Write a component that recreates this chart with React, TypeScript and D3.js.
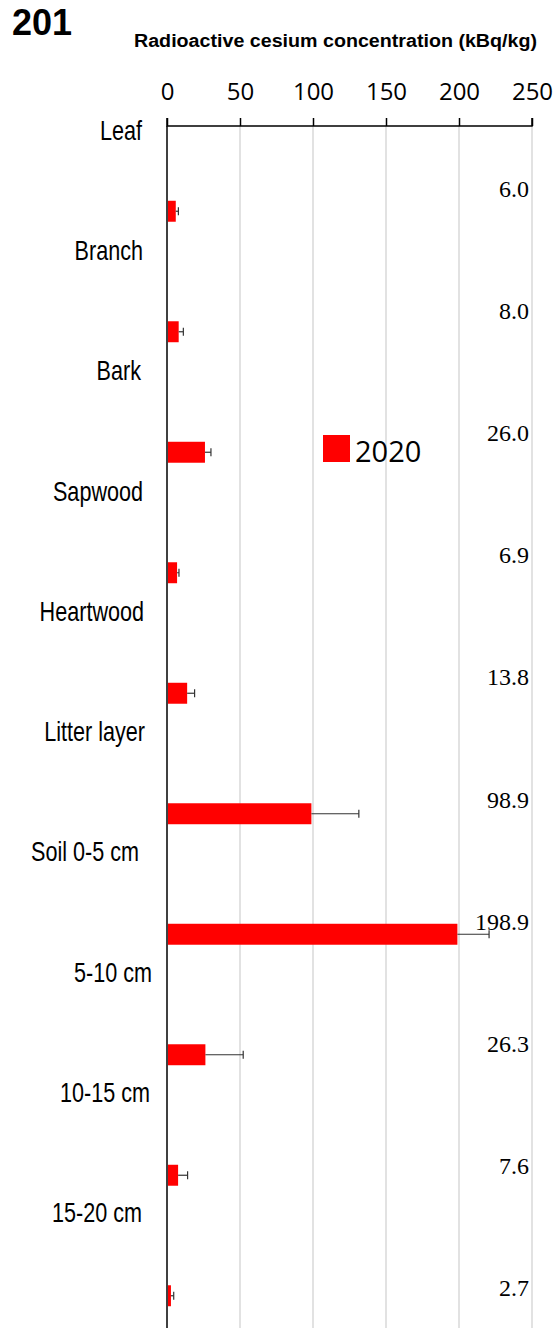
import React, { useEffect, useRef } from 'react';
import * as d3 from 'd3';

const categories = ['Leaf', 'Branch', 'Bark', 'Sapwood', 'Heartwood', 'Litter layer', 'Soil 0-5 cm', '5-10 cm', '10-15 cm', '15-20 cm'];
const values2020 = [6.0, 8.0, 26.0, 6.9, 13.8, 98.9, 198.9, 26.3, 7.6, 2.7];
const errors2020 = [1.8, 3.2, 4.1, 1.3, 5.1, 32.5, 21.7, 25.9, 6.5, 1.9];
const xTicks = [0, 50, 100, 150, 200, 250];
const seriesName = '2020';
const figureNumber = '201';
const axisTitle = 'Radioactive cesium concentration (kBq/kg)';

// small hand nudges for the category labels (they are not aligned in the original)
const labelShift = [-1, 0, -2, 0, 1, 2, -4, 9, 7, -1];

function App() {
  const ref = useRef<SVGSVGElement>(null);

  useEffect(() => {
    const width = 555;
    const height = 1328;
    const left = 167;
    const right = 532;
    const top = 126;

    const svg = d3.select(ref.current);
    svg.selectAll('*').remove();

    const x = d3.scaleLinear().domain([0, 250]).range([left, right]);
    const y = d3.scaleBand<string>()
      .domain(categories)
      .range([151, 1356])
      .paddingInner(0.826)
      .paddingOuter(0.413);

    // text layers in the original follow their own spacing
    const catY = d3.scaleLinear().domain([0, categories.length - 1]).range([140, 1222]);
    const valY = d3.scaleLinear().domain([0, categories.length - 1]).range([197, 1296]);

    // gridlines
    svg.append('g')
      .selectAll('line')
      .data(xTicks.filter(d => d > 0))
      .join('line')
      .attr('x1', d => x(d)).attr('x2', d => x(d))
      .attr('y1', top).attr('y2', height)
      .attr('stroke', '#d9d9d9')
      .attr('stroke-width', 1.5);

    // figure number + axis title
    svg.append('text')
      .attr('x', 12).attr('y', 35)
      .attr('font-family', 'Liberation Sans')
      .attr('font-weight', 700)
      .attr('font-size', 36)
      .attr('fill', '#000')
      .text(figureNumber);

    svg.append('text')
      .attr('x', 134).attr('y', 47)
      .attr('font-family', 'Liberation Sans')
      .attr('font-weight', 700)
      .attr('font-size', 18)
      .attr('textLength', 403)
      .attr('lengthAdjust', 'spacingAndGlyphs')
      .attr('fill', '#000')
      .text(axisTitle);

    // top axis
    const axis = svg.append('g')
      .attr('transform', `translate(0,${top})`)
      .call(d3.axisTop(x).tickValues(xTicks).tickSize(8).tickPadding(18).tickFormat(d3.format('d')));
    axis.select('.domain').attr('stroke', '#000').attr('stroke-width', 1.5).attr('d', `M${left},-8V0H${right}V-8`);
    axis.selectAll('.tick line').attr('stroke', '#000').attr('stroke-width', 1.5);
    axis.selectAll('.tick text')
      .attr('font-family', 'Open Sans')
      .attr('font-size', 24)
      .attr('fill', '#000');

    // vertical axis line
    svg.append('line')
      .attr('x1', left).attr('x2', left)
      .attr('y1', top).attr('y2', height)
      .attr('stroke', '#000')
      .attr('stroke-width', 1.5);

    // bars
    svg.append('g')
      .selectAll('rect')
      .data(categories)
      .join('rect')
      .attr('x', x(0) + 1)
      .attr('y', d => y(d)!)
      .attr('width', (d, i) => x(values2020[i]) - x(0) - 1)
      .attr('height', y.bandwidth())
      .attr('fill', '#ff0000');

    // error bars
    const eb = svg.append('g').attr('stroke', '#333').attr('stroke-width', 1.2);
    categories.forEach((c, i) => {
      const cy = y(c)! + y.bandwidth() / 2;
      const x1 = x(values2020[i]);
      const x2 = x(values2020[i] + errors2020[i]);
      eb.append('line').attr('x1', x1).attr('x2', x2).attr('y1', cy).attr('y2', cy);
      eb.append('line').attr('x1', x2).attr('x2', x2).attr('y1', cy - 4).attr('y2', cy + 4);
    });

    // category labels (Arial Narrow look)
    svg.append('g')
      .selectAll('text')
      .data(categories)
      .join('text')
      .attr('transform', (d, i) => `translate(${143 + labelShift[i]},${catY(i)}) scale(0.8,1)`)
      .attr('text-anchor', 'end')
      .attr('font-family', 'Liberation Sans')
      .attr('font-size', 27)
      .attr('fill', '#000')
      .text(d => d);

    // value labels
    svg.append('g')
      .selectAll('text')
      .data(values2020)
      .join('text')
      .attr('x', 529)
      .attr('y', (d, i) => valY(i))
      .attr('text-anchor', 'end')
      .attr('font-family', 'Liberation Serif')
      .attr('font-size', 24)
      .attr('fill', '#000')
      .text(d => d.toFixed(1));

    // legend
    const lg = svg.append('g').attr('transform', 'translate(323,435)');
    lg.append('rect').attr('width', 27).attr('height', 27).attr('fill', '#ff0000');
    lg.append('text')
      .attr('x', 32).attr('y', 26.5)
      .attr('font-family', 'Open Sans')
      .attr('font-size', 29)
      .attr('fill', '#000')
      .text(seriesName);

    svg.attr('width', width).attr('height', height);
  }, []);

  return (
    <svg ref={ref} width={555} height={1328}
      style={{ position: 'absolute', left: 0, top: 0, background: '#fff' }} />
  );
}

export default App;
